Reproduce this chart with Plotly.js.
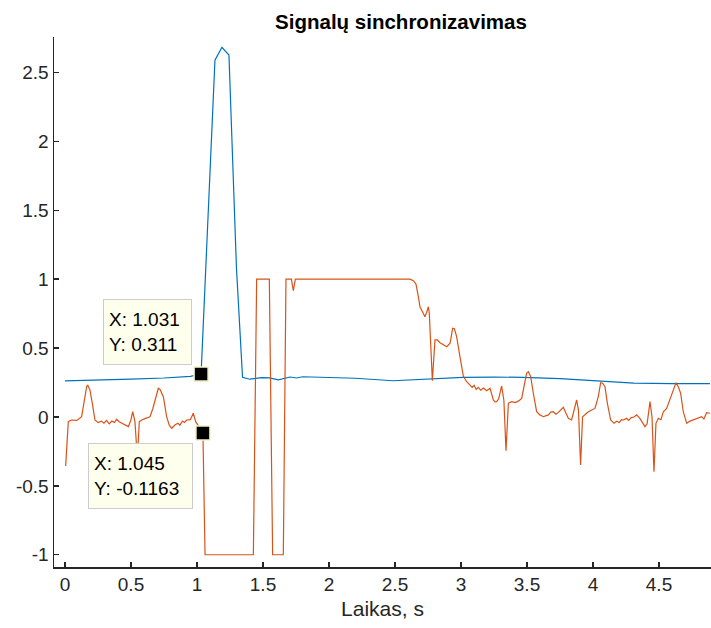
<!DOCTYPE html>
<html>
<head>
<meta charset="utf-8">
<script src="https://cdn.plot.ly/plotly-3.0.1.min.js"></script>
<style>html,body{margin:0;padding:0;background:#fff;}#chart{width:711px;height:628px;}</style>
</head>
<body>
<div id="chart"></div>
<script>
// Blue signal (sparsely sampled)
const blueX = [0, 0.25, 0.5, 0.75, 0.95, 1.031, 1.136, 1.189, 1.242, 1.299, 1.345, 1.40, 1.49, 1.55, 1.616, 1.705, 1.755, 1.80, 2.0, 2.2, 2.485, 2.75, 3.015, 3.25, 3.47, 3.75, 4.03, 4.31, 4.6, 4.886];
const blueY = [0.262, 0.266, 0.274, 0.283, 0.295, 0.311, 2.59, 2.683, 2.627, 1.081, 0.288, 0.274, 0.285, 0.284, 0.269, 0.290, 0.283, 0.292, 0.288, 0.281, 0.263, 0.276, 0.288, 0.289, 0.288, 0.278, 0.261, 0.245, 0.242, 0.242];

// Orange signal
const orangeX = [0.005,0.025,0.05,0.09,0.126,0.139,0.164,0.172,0.189,0.207,0.227,0.252,0.275,0.295,0.315,0.335,0.355,0.375,0.391,0.41,0.429,0.455,0.48,0.5,0.513,0.53,0.548,0.563,0.581,0.61,0.644,0.665,0.682,0.707,0.72,0.745,0.77,0.79,0.808,0.833,0.855,0.87,0.89,0.905,0.922,0.95,0.972,0.99,1.045,1.061,1.427,1.452,1.548,1.573,1.654,1.674,1.715,1.73,1.745,2.614,2.639,2.659,2.677,2.689,2.71,2.727,2.74,2.753,2.76,2.783,2.803,2.821,2.841,2.871,2.892,2.917,2.937,2.95,2.967,2.992,3.018,3.043,3.068,3.085,3.1,3.115,3.13,3.15,3.17,3.195,3.22,3.245,3.258,3.27,3.285,3.308,3.325,3.341,3.359,3.384,3.41,3.434,3.46,3.477,3.497,3.51,3.528,3.548,3.573,3.598,3.624,3.645,3.662,3.68,3.699,3.72,3.74,3.775,3.795,3.813,3.838,3.856,3.876,3.89,3.906,3.921,3.94,3.965,3.99,4.015,4.04,4.058,4.073,4.091,4.109,4.134,4.159,4.18,4.2,4.215,4.23,4.255,4.27,4.29,4.31,4.331,4.355,4.375,4.394,4.41,4.432,4.447,4.462,4.477,4.495,4.515,4.533,4.558,4.583,4.609,4.629,4.646,4.664,4.684,4.71,4.735,4.76,4.79,4.823,4.84,4.861,4.886];
const orangeY = [-0.356,-0.034,-0.022,-0.025,0.002,0.075,0.22,0.232,0.196,0.099,-0.022,-0.041,-0.03,-0.045,-0.025,-0.05,-0.03,-0.04,-0.017,-0.035,-0.046,-0.06,-0.07,-0.02,0.038,-0.034,-0.30,-0.034,-0.022,-0.01,0.002,0.06,0.123,0.208,0.2,0.147,0.002,-0.06,-0.082,-0.058,-0.045,-0.06,-0.03,-0.04,-0.022,-0.02,0.027,-0.034,-0.1163,-1.0,-1.0,1.0,1.0,-1.0,-1.0,1.0,1.0,0.917,1.0,1.0,0.989,0.965,0.873,0.80,0.76,0.728,0.76,0.80,0.752,0.263,0.559,0.559,0.539,0.522,0.51,0.535,0.644,0.64,0.583,0.438,0.295,0.256,0.232,0.215,0.23,0.2,0.215,0.195,0.21,0.19,0.208,0.123,0.11,0.111,0.13,0.225,0.12,-0.245,0.099,0.111,0.105,0.115,0.135,0.208,0.317,0.329,0.293,0.172,0.038,0.015,0.002,0.01,0.015,0.035,0.038,0.02,0.035,0.07,0.02,-0.01,-0.022,0.038,0.123,0.05,-0.348,0.002,0.02,0.038,0.05,0.062,0.147,0.249,0.245,0.22,0.099,-0.022,-0.046,-0.03,-0.04,-0.02,-0.022,-0.01,-0.025,-0.005,0.0,0.015,-0.01,-0.04,-0.07,-0.05,0.111,0.0,-0.397,-0.046,-0.01,-0.02,0.038,0.062,0.123,0.196,0.249,0.22,0.172,0.038,-0.046,-0.03,-0.022,-0.01,0.002,-0.015,0.031,0.027];

// Data tips
const tipX = [1.031, 1.045];
const tipY = [0.311, -0.1163];
const tipText = ["X: 1.031<br>Y: 0.311", "X: 1.045<br>Y: -0.1163"];

// Labels
const titleText = "Signalų sinchronizavimas";
const xTitle = "Laikas, s";
const xTicks = [0, 0.5, 1, 1.5, 2, 2.5, 3, 3.5, 4, 4.5];
const xTickText = ["0", "0.5", "1", "1.5", "2", "2.5", "3", "3.5", "4", "4.5"];
const yTicks = [-1, -0.5, 0, 0.5, 1, 1.5, 2, 2.5];
const yTickText = ["-1", "-0.5", "0", "0.5", "1", "1.5", "2", "2.5"];

const FONT = "Liberation Sans, Arial, Helvetica, sans-serif";
const AX = "#262626";

const traces = [
  {x: blueX, y: blueY, type: "scatter", mode: "lines", line: {color: "#0072BD", width: 1.2}, hoverinfo: "skip"},
  {x: orangeX, y: orangeY, type: "scatter", mode: "lines", line: {color: "#D95319", width: 1.2}, hoverinfo: "skip"},
  {x: tipX, y: tipY, type: "scatter", mode: "markers", marker: {symbol: "square", size: 14, color: "#000000", line: {color: "#F2F2C8", width: 1.5}}, hoverinfo: "skip"}
];

const tipOffsets = [[-53.5, -42, 77, 54], [-62.5, 43.5, 93, 54]];
const annotations = tipX.map((x, i) => ({
  x: x, y: tipY[i], xref: "x", yref: "y",
  text: tipText[i], align: "left",
  showarrow: true, arrowcolor: "rgba(0,0,0,0)", arrowwidth: 0.1,
  ax: tipOffsets[i][0], ay: tipOffsets[i][1],
  width: tipOffsets[i][2], height: tipOffsets[i][3],
  xanchor: "center", yanchor: "middle",
  bgcolor: "#FFFFED", bordercolor: "#CCCCCC", borderwidth: 1, borderpad: 5,
  font: {family: FONT, size: 19, color: "#000"}
}));

const layout = {
  width: 711, height: 628,
  margin: {l: 54, r: 0, t: 37, b: 61, pad: 0},
  paper_bgcolor: "#ffffff", plot_bgcolor: "#ffffff",
  showlegend: false,
  title: {text: "<b>" + titleText + "</b>", font: {family: FONT, size: 20.5, color: "#000"},
          x: 401/711, xanchor: "center", xref: "container", y: 1 - 22/628, yanchor: "middle", yref: "container"},
  xaxis: {
    range: [-0.0833, 4.894], tickmode: "array", tickvals: xTicks, ticktext: xTickText,
    ticks: "inside", ticklen: 5, tickwidth: 1.5, tickcolor: AX,
    showline: true, linecolor: AX, linewidth: 1.5, showgrid: false, zeroline: false,
    tickfont: {family: FONT, size: 19, color: AX},
    title: {text: xTitle, font: {family: FONT, size: 21, color: AX}, standoff: 7}
  },
  yaxis: {
    range: [-1.089, 2.758], tickmode: "array", tickvals: yTicks, ticktext: yTickText,
    ticks: "inside", ticklen: 5, tickwidth: 1.5, tickcolor: AX,
    showline: true, linecolor: AX, linewidth: 1.5, showgrid: false, zeroline: false,
    tickfont: {family: FONT, size: 19, color: AX}
  },
  annotations: annotations
};

Plotly.newPlot("chart", traces, layout, {displayModeBar: false, staticPlot: true});
</script>
</body>
</html>
